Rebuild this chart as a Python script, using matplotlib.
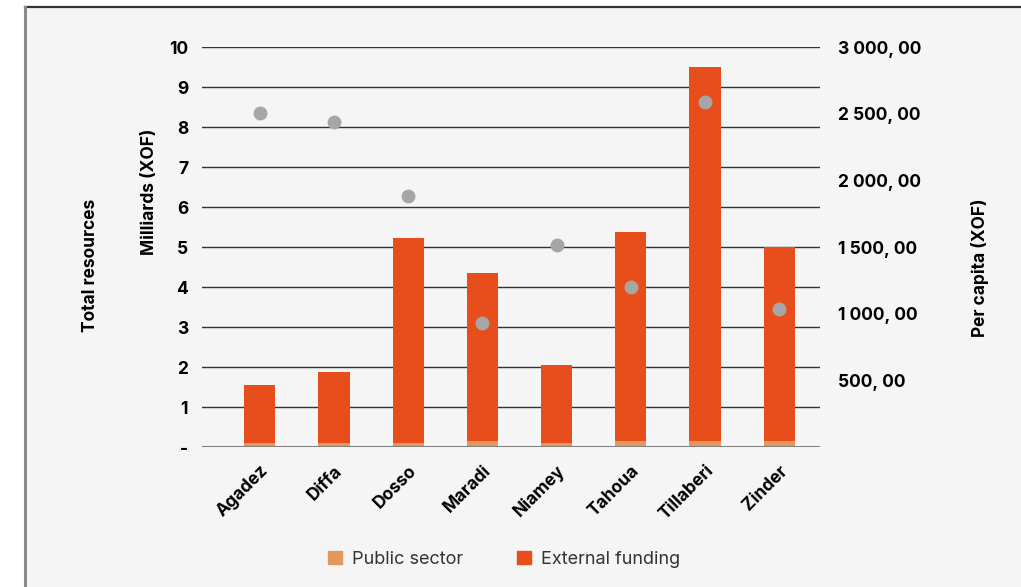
import matplotlib
matplotlib.use("Agg")
import matplotlib.pyplot as plt
from matplotlib.patches import Rectangle, Patch
from matplotlib.lines import Line2D
import numpy as np

plt.rcParams['font.family'] = ['Inter', 'DejaVu Sans']

regions = ["Agadez", "Diffa", "Dosso", "Maradi", "Niamey", "Tahoua", "Tillaberi", "Zinder"]
public_sector = [0.09, 0.09, 0.09, 0.15, 0.09, 0.14, 0.14, 0.14]
external_funding = [1.46, 1.79, 5.13, 4.20, 1.96, 5.24, 9.36, 4.86]
per_capita = [2505, 2440, 1880, 930, 1515, 1200, 2590, 1035]

left_ticks = list(range(0, 11))
left_labels = ["-"] + [str(v) for v in range(1, 11)]
right_ticks = [500, 1000, 1500, 2000, 2500, 3000]
right_labels = ["500, 00", "1 000, 00", "1 500, 00", "2 000, 00", "2 500, 00", "3 000, 00"]

C_EXT = "#E84E1B"
C_PUB = "#E3975D"
C_DOT = "#A6A6A6"
C_BG = "#F5F5F5"
FS = 12.5

W, H = 1021, 587
fig = plt.figure(figsize=(W / 100, H / 100), dpi=100)
fig.patch.set_facecolor("white")

# background panel with its border
fig.add_artist(Rectangle((25 / W, 0), 1, (H - 7) / H, transform=fig.transFigure,
                         facecolor=C_BG, edgecolor="none", zorder=-5))
fig.add_artist(Line2D([25 / W, 1], [(H - 7) / H] * 2, color="#333333", lw=1.6, zorder=-4))
fig.add_artist(Line2D([25 / W] * 2, [0, (H - 7) / H], color="#8a8a8a", lw=2.2, zorder=-4))

ax = fig.add_axes([202 / W, (H - 447) / H, 618 / W, 400 / H])
ax.set_facecolor("none")
x = np.arange(len(regions))

ax.bar(x, public_sector, width=0.42, color=C_PUB, zorder=3)
ax.bar(x, external_funding, bottom=public_sector, width=0.42, color=C_EXT, zorder=3)

ax.set_xlim(-0.78, 7.55)
ax.set_ylim(0, 10)
for v in left_ticks[1:]:
    ax.axhline(v, color="#333333", lw=1.0, zorder=1)
ax.axhline(0, color="#808080", lw=2.2, zorder=4)

for s in ax.spines.values():
    s.set_visible(False)
ax.set_yticks(left_ticks)
ax.set_yticklabels(left_labels, fontsize=FS, fontweight="bold")
ax.tick_params(axis="y", length=0, pad=10)
ax.set_xticks(x)
ax.set_xticklabels(regions, rotation=45, ha="right", rotation_mode="anchor",
                   fontsize=FS, fontweight="bold")
ax.tick_params(axis="x", length=0, pad=11)

ax2 = ax.twinx()
ax2.set_ylim(0, 3000)
ax2.scatter(x, per_capita, s=100, color=C_DOT, zorder=5, linewidths=0)
for s in ax2.spines.values():
    s.set_visible(False)
ax2.set_yticks(right_ticks)
ax2.set_yticklabels(right_labels, fontsize=FS, fontweight="bold")
ax2.tick_params(axis="y", length=0, pad=13)

fig.text(150 / W, 1 - 192 / H, "Milliards (XOF)", rotation=90, ha="center", va="center",
         fontsize=FS, fontweight="bold")
fig.text(90 / W, 1 - 265 / H, "Total resources", rotation=90, ha="center", va="center",
         fontsize=FS, fontweight="bold")
fig.text(980 / W, 1 - 268 / H, "Per capita (XOF)", rotation=90, ha="center", va="center",
         fontsize=FS, fontweight="bold")

handles = [Patch(color=C_PUB, label="Public sector"), Patch(color=C_EXT, label="External funding")]
fig.legend(handles=handles, loc="center", bbox_to_anchor=(504 / W, 1 - 559 / H), ncol=2,
           frameon=False, fontsize=13.0, handlelength=0.75, handleheight=0.75,
           handletextpad=0.55, columnspacing=3.0, labelcolor="#333333")

fig.savefig("out.png", dpi=100, facecolor="white")
